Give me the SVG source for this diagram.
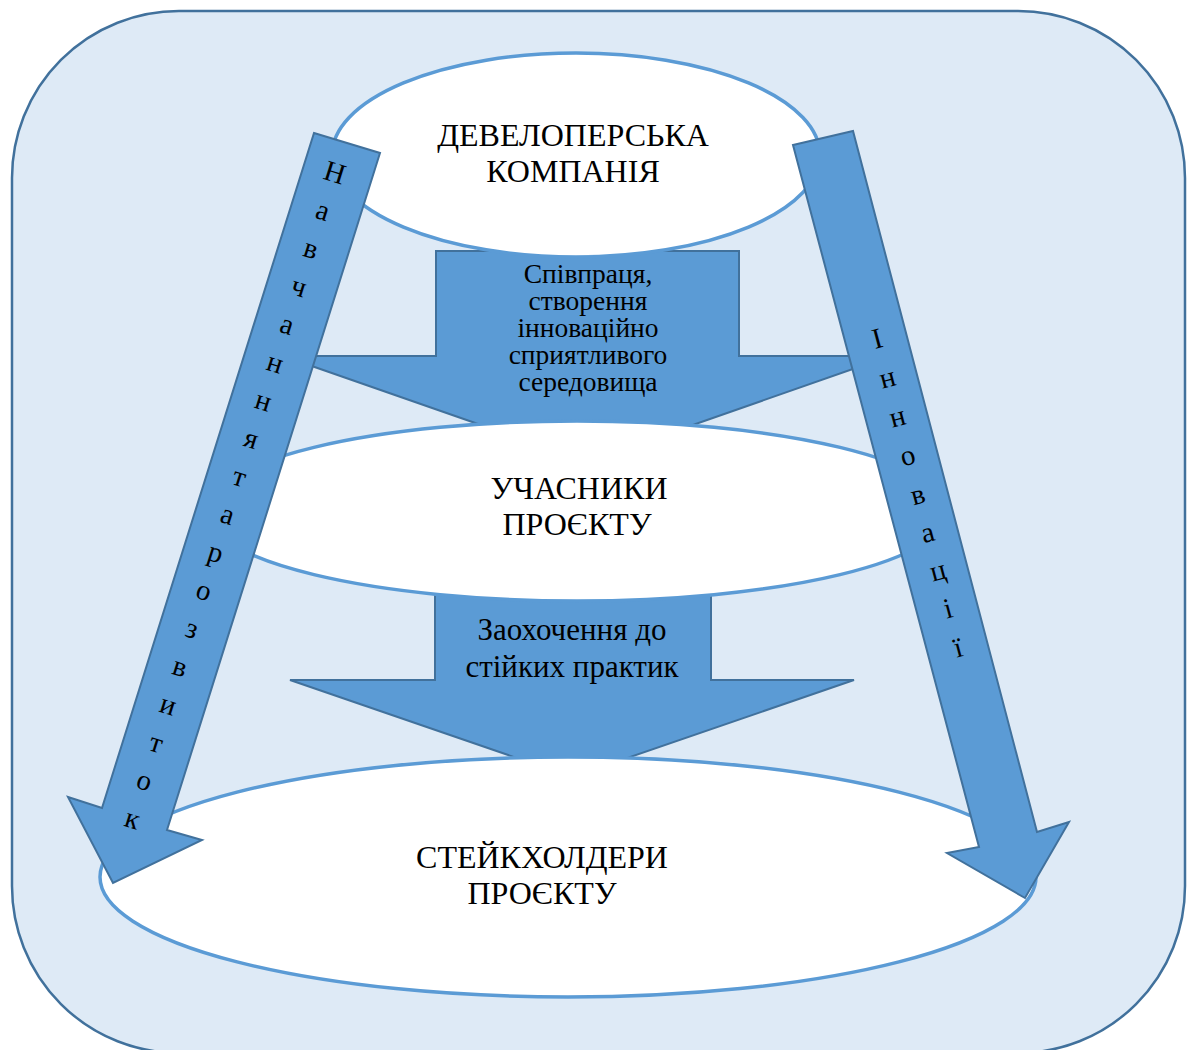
<svg xmlns="http://www.w3.org/2000/svg" width="1195" height="1050" viewBox="0 0 1195 1050">
<style>
.bg{fill:#DEEAF6;stroke:#41719C;stroke-width:2.5}
.arr{fill:#5B9BD5;stroke:#41719C;stroke-width:2;stroke-linejoin:miter}
.ell{fill:#FFFFFF;stroke:#5B9BD5;stroke-width:3.5}
text{font-family:"Liberation Serif","Times New Roman",serif;fill:#000;text-anchor:middle}
.big{font-size:32px}
.mid{font-size:27.5px}
.mid2{font-size:31px}
.let{font-size:29px}
</style>
<rect class="bg" x="12" y="11" width="1173" height="1042" rx="167" ry="167"/>
<g id="connectors">
  <g id="arrow-cooperation">
    <polygon class="arr" points="436,251 739,251 739,356 890,356 587,462 283,356 436,356"/>
    <text class="mid" x="588" y="283">Співпраця,</text>
    <text class="mid" x="588" y="310">створення</text>
    <text class="mid" x="588" y="337">інноваційно</text>
    <text class="mid" x="588" y="364">сприятливого</text>
    <text class="mid" x="588" y="391">середовища</text>
  </g>
  <g id="arrow-encourage">
    <polygon class="arr" points="435,590 711,590 711,680 854,680 572,777 290,680 435,680"/>
    <text class="mid2" x="572" y="640">Заохочення до</text>
    <text class="mid2" x="572" y="677">стійких практик</text>
  </g>
</g>
<g id="node-developer">
  <ellipse class="ell" cx="576" cy="155" rx="244" ry="102"/>
  <text class="big" x="573" y="146">ДЕВЕЛОПЕРСЬКА</text>
  <text class="big" x="573" y="182">КОМПАНІЯ</text>
</g>
<g id="node-participants">
  <ellipse class="ell" cx="577" cy="511" rx="372" ry="90"/>
  <text class="big" x="579" y="499">УЧАСНИКИ</text>
  <text class="big" x="577" y="535">ПРОЄКТУ</text>
</g>
<g id="node-stakeholders">
  <ellipse class="ell" cx="568" cy="877" rx="468" ry="120"/>
  <text class="big" x="542" y="868">СТЕЙКХОЛДЕРИ</text>
  <text class="big" x="542" y="904">ПРОЄКТУ</text>
</g>
<g id="side-arrows">
  <g id="arrow-learning">
    <polygon class="arr" points="314,133 380,153 167,830 202,840 113,883 68,797 102,808"/>
    <g class="let">
      <text transform="translate(335,172) rotate(17.5)" dy="10">Н</text>
      <text transform="translate(323.1,210) rotate(17.5)" dy="10">а</text>
      <text transform="translate(311.2,248) rotate(17.5)" dy="10">в</text>
      <text transform="translate(299.3,286) rotate(17.5)" dy="10">ч</text>
      <text transform="translate(287.4,324) rotate(17.5)" dy="10">а</text>
      <text transform="translate(275.5,362) rotate(17.5)" dy="10">н</text>
      <text transform="translate(263.6,400) rotate(17.5)" dy="10">н</text>
      <text transform="translate(251.7,438) rotate(17.5)" dy="10">я</text>
      <text transform="translate(239.8,476) rotate(17.5)" dy="10">т</text>
      <text transform="translate(227.9,514) rotate(17.5)" dy="10">а</text>
      <text transform="translate(216,552) rotate(17.5)" dy="10">р</text>
      <text transform="translate(204.1,590) rotate(17.5)" dy="10">о</text>
      <text transform="translate(192.2,628) rotate(17.5)" dy="10">з</text>
      <text transform="translate(180.3,666) rotate(17.5)" dy="10">в</text>
      <text transform="translate(168.4,704) rotate(17.5)" dy="10">и</text>
      <text transform="translate(156.5,742) rotate(17.5)" dy="10">т</text>
      <text transform="translate(144.6,780) rotate(17.5)" dy="10">о</text>
      <text transform="translate(132.7,818) rotate(17.5)" dy="10">к</text>
    </g>
  </g>
  <g id="arrow-innovation">
    <polygon class="arr" points="793,145 853,131 1037,832 1069,822 1025,898 947,853 979,847"/>
    <g class="let">
      <text transform="translate(877,338) rotate(-15)" dy="10">І</text>
      <text transform="translate(887.1,377) rotate(-15)" dy="10">н</text>
      <text transform="translate(897.2,416) rotate(-15)" dy="10">н</text>
      <text transform="translate(907.3,455) rotate(-15)" dy="10">о</text>
      <text transform="translate(917.4,494) rotate(-15)" dy="10">в</text>
      <text transform="translate(927.5,532) rotate(-15)" dy="10">а</text>
      <text transform="translate(937.6,570) rotate(-15)" dy="10">ц</text>
      <text transform="translate(947.7,608) rotate(-15)" dy="10">і</text>
      <text transform="translate(957.8,647) rotate(-15)" dy="10">ї</text>
    </g>
  </g>
</g>
</svg>
